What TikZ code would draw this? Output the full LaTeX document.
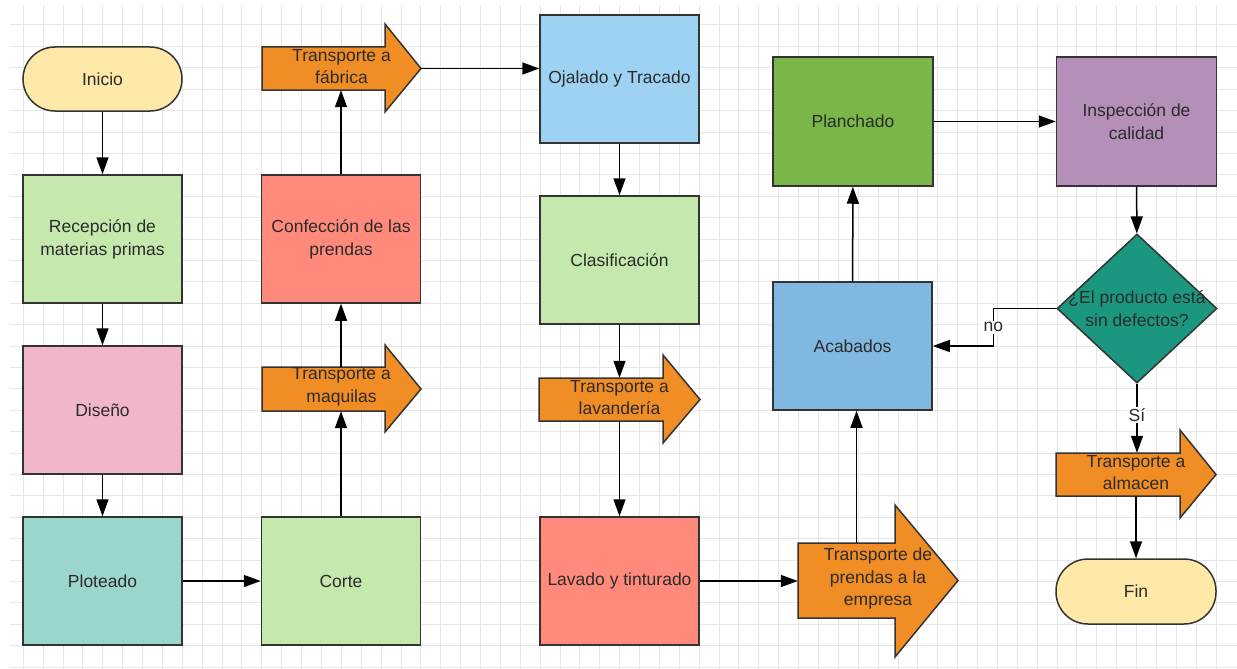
\documentclass[tikz,border=0pt]{standalone}
\usepackage{fontspec}
\setmainfont{Liberation Sans}
\usetikzlibrary{shapes.geometric,arrows.meta}
\definecolor{gridc}{HTML}{E6E6E6}
\definecolor{edge}{HTML}{333333}
\definecolor{txt}{HTML}{2B2B2B}
\definecolor{cYellow}{HTML}{FFE9A8}
\definecolor{cLGreen}{HTML}{C5E8AC}
\definecolor{cPink}{HTML}{F2B6CB}
\definecolor{cTeal}{HTML}{9BD6CC}
\definecolor{cSalmon}{HTML}{FF8A7B}
\definecolor{cOrange}{HTML}{F08D25}
\definecolor{cLBlue}{HTML}{9DD2F2}
\definecolor{cBlue}{HTML}{80B8E1}
\definecolor{cGreen}{HTML}{7AB648}
\definecolor{cPurple}{HTML}{B48FB8}
\definecolor{cDec}{HTML}{1B9780}
\tikzset{
  gridline/.style={draw=gridc, line width=1pt},
  box/.style={draw=edge, line width=1.5pt, text=txt, align=center, inner sep=0pt,
    minimum width=159pt, minimum height=128pt,
    font=\fontsize{17.5}{23}\selectfont},
  term/.style={box, rounded corners=32pt, minimum width=159pt, minimum height=64pt, fill=cYellow},
  tshape/.style={draw=edge, line width=1.5pt, fill=cOrange, line join=miter},
  anchorbox/.style={draw=none, inner sep=0pt},
  ttext/.style={text=txt, align=center, inner sep=0pt, font=\fontsize{17.5}{22.5}\selectfont},
  conn/.style={draw=black, line width=1.5pt, -{Triangle[length=17pt,width=12pt]}},
  lbl/.style={fill=white, text=txt, inner sep=1.5pt, font=\fontsize{17.5}{21}\selectfont},
}
% name, left, body top, body bottom, head start, head top, head bottom, tip, text
\newcommand{\tarrow}[9]{%
  \draw[tshape] (#2,#3) -- (#5,#3) -- (#5,#6) -- (#8,{(#3+#4)/2}) -- (#5,#7) -- (#5,#4) -- (#2,#4) -- cycle;
  \node[anchorbox, minimum width={#5-#2}, minimum height={#4-#3}] (#1) at ({(#2+#5)/2},{(#3+#4)/2}) {};
  \coordinate (#1-tip) at (#8,{(#3+#4)/2});
  \node[ttext] (#1-t) at ({(#2+#8)/2},{(#3+#4)/2-2}) {#9};
}
\begin{document}
\begin{tikzpicture}[x=1pt,y=-1pt]
\useasboundingbox (0,0) rectangle (1237,669);
\fill[white] (0,0) rectangle (1237,669);
% grid
\foreach \i in {0,...,60} \draw[gridline] ({23.3+19.88*\i},5) -- ({23.3+19.88*\i},669);
\foreach \j in {0,...,30} \draw[gridline] (10,{25+21.4*\j}) -- (1237,{25+21.4*\j});

% nodes
\node[term] (inicio) at (102.5,79) {Inicio};
\node[box, fill=cLGreen] (recep) at (102.5,239) {Recepción de\\materias primas};
\node[box, fill=cPink] (dis) at (102.5,410) {Diseño};
\node[box, fill=cTeal] (plot) at (102.5,581) {Ploteado};
\node[box, fill=cLGreen] (corte) at (341,581) {Corte};
\node[box, fill=cSalmon] (conf) at (341,239) {Confección de las\\prendas};
\node[box, fill=cLBlue] (oja) at (619.5,79) {Ojalado y Tracado};
\node[box, fill=cLGreen] (clas) at (619.5,260) {Clasificación};
\node[box, fill=cSalmon] (lavado) at (619.5,581) {Lavado y tinturado};
\node[box, fill=cBlue] (acab) at (852.5,346) {Acabados};
\node[box, fill=cGreen, minimum width=160pt, minimum height=129pt] (planch) at (853,121.5) {Planchado};
\node[box, fill=cPurple, minimum width=160pt, minimum height=129pt] (insp) at (1136.5,121.5) {Inspección de\\calidad};
\node[draw=edge, line width=1.5pt, fill=cDec, diamond, inner sep=0pt, minimum width=160pt, minimum height=149pt,
  label={[ttext]center:{¿El producto está\\sin defectos?}}] (dec) at (1137,308.5) {};
\node[term, minimum width=160pt, minimum height=65pt] (fin) at (1136,591.5) {Fin};

\tarrow{fab}{262}{47}{90}{385}{24}{112}{421}{Transporte a\\fábrica}
\tarrow{maq}{262}{367}{411}{385}{345}{432}{421}{Transporte a\\maquilas}
\tarrow{lava}{539}{378}{421}{663}{355}{443}{700}{Transporte a\\lavandería}
\tarrow{emp}{798}{543}{618}{895}{505}{657}{958}{Transporte de\\prendas a la\\empresa}
\tarrow{alm}{1056}{453}{496}{1180}{430}{518}{1216}{Transporte a\\almacen}

% connectors
\draw[conn] (inicio) -- (recep);
\draw[conn] (recep) -- (dis);
\draw[conn] (dis) -- (plot);
\draw[conn] (plot) -- (corte);
\draw[conn] (corte.north) -- (corte.north |- maq.south);
\draw[conn] (conf.south |- maq.north) -- (conf.south);
\draw[conn] (conf.north) -- (conf.north |- fab.south);
\draw[conn] (fab-tip) -- (fab-tip -| oja.west);
\draw[conn] (oja) -- (clas);
\draw[conn] (clas.south) -- (clas.south |- lava.north);
\draw[conn] (lavado.north |- lava.south) -- (lavado.north);
\draw[conn] (lavado.east) -- (lavado.east -| emp.west);
\draw[conn] ([xshift=4pt]acab.south |- emp.north) -- ([xshift=4pt]acab.south);
\draw[conn] (acab) -- (planch);
\draw[conn] (planch) -- (insp);
\draw[conn] (insp) -- (dec);
\draw[conn] (dec.west) -- ++(-63,0) |- node[pos=0.25, lbl] {no} (acab.east);
\draw[conn] (dec.south) -- node[lbl, pos=0.45] {Sí} (dec.south |- alm.north);
\draw[conn] (fin.north |- alm.south) -- (fin.north);
\end{tikzpicture}
\end{document}
